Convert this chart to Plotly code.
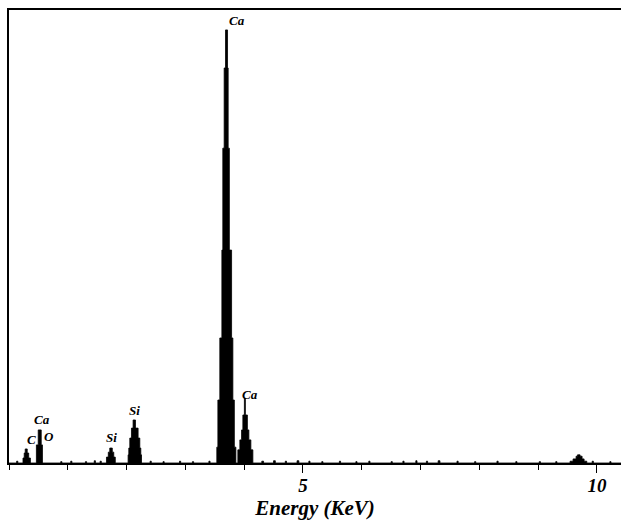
import plotly.graph_objects as go

# ---- data ----
# each peak: step edges (keV) and counts from that edge to the next
c_keV = [0.238, 0.259, 0.276, 0.310, 0.335, 0.364]
c_counts = [11, 22, 31, 22, 11, 0]

cao_keV = [0.466, 0.497, 0.548, 0.569]
cao_counts = [40, 73, 40, 0]

si1_keV = [1.658, 1.689, 1.714, 1.757, 1.782, 1.808]
si1_counts = [13, 24, 33, 24, 13, 0]

si2_keV = [2.026, 2.038, 2.055, 2.083, 2.111, 2.151, 2.196, 2.225, 2.242, 2.254]
si2_counts = [18, 33, 55, 77, 95, 77, 55, 33, 18, 0]

ca_ka_keV = [3.535, 3.553, 3.586, 3.621, 3.637, 3.660, 3.683, 3.717, 3.728, 3.748,
             3.786, 3.808, 3.833, 3.859]
ca_ka_counts = [35, 139, 276, 470, 695, 872, 956, 872, 695, 470, 276, 139, 35, 0]

ca_kb_keV = [3.893, 3.927, 3.956, 3.978, 4.004, 4.021, 4.055, 4.080, 4.114, 4.148]
ca_kb_counts = [29, 51, 73, 106, 143, 106, 73, 51, 29, 0]

hi_keV = [9.544, 9.595, 9.646, 9.671, 9.714, 9.748, 9.782, 9.828]
hi_counts = [4, 9, 15, 18, 15, 9, 4, 0]

# background noise blips (edge, count) pairs
noise_keV = [0.13, 0.15, 0.88, 0.90, 1.05, 1.07, 1.30, 1.32, 1.45, 1.47, 1.55, 1.57,
             2.40, 2.42, 2.62, 2.64, 2.90, 2.92, 3.12, 3.14, 3.40, 3.42,
             4.30, 4.33, 4.50, 4.53, 4.70, 4.72, 4.90, 4.93, 5.10, 5.12, 5.32, 5.34,
             5.62, 5.64, 5.90, 5.92, 6.12, 6.14, 6.50, 6.52, 6.70, 6.72, 6.92, 6.94,
             7.10, 7.12, 7.30, 7.33, 7.62, 7.64, 7.92, 7.94, 8.30, 8.32, 8.62, 8.64,
             9.02, 9.04, 9.30, 9.32, 9.92, 9.94, 10.22, 10.24]
noise_counts = [4, 0, 3, 0, 4, 0, 3, 0, 5, 0, 4, 0,
                4, 0, 3, 0, 4, 0, 3, 0, 4, 0,
                4, 0, 5, 0, 4, 0, 5, 0, 4, 0, 3, 0,
                4, 0, 3, 0, 4, 0, 3, 0, 4, 0, 5, 0,
                4, 0, 5, 0, 4, 0, 3, 0, 4, 0, 3, 0,
                3, 0, 3, 0, 4, 0, 3, 0]

x_range = [0, 10.41]
y_range = [0, 1000]
tick_values = [5, 10]
tick_text = ["5", "10"]

# peak labels: text, energy, count at label
labels = [
    ("Ca", 3.700, 956),
    ("C", 0.300, 31),
    ("Ca", 0.520, 73),
    ("O", 0.580, 40),
    ("Si", 1.735, 33),
    ("Si", 2.130, 95),
    ("Ca", 4.020, 143),
]

# ---- assemble spectrum ----
pts = [(0.0, 0)]
for ks, cs in [(c_keV, c_counts), (cao_keV, cao_counts), (si1_keV, si1_counts),
               (si2_keV, si2_counts), (ca_ka_keV, ca_ka_counts), (ca_kb_keV, ca_kb_counts),
               (hi_keV, hi_counts), (noise_keV, noise_counts)]:
    pts.extend(zip(ks, cs))
pts.append((x_range[1], 0))
pts.sort(key=lambda p: p[0])
xs = [p[0] for p in pts]
ys = [p[1] for p in pts]

fig = go.Figure()
fig.add_trace(go.Scatter(
    x=xs, y=ys, mode="lines", line=dict(shape="hv", color="black", width=0.8),
    fill="tozeroy", fillcolor="black", hoverinfo="skip", showlegend=False))

serif = "Liberation Serif"
# (xanchor, xshift, yshift)
place = {0: ("left", 0, 0), 1: ("left", -2, 0), 2: ("center", 2, 1), 3: ("left", -1, -1),
         4: ("center", 0, 1), 5: ("center", 0, 0), 6: ("center", 5, -6)}
for i, (txt, e, h) in enumerate(labels):
    xa, dx, dy = place[i]
    fig.add_annotation(x=e, y=h, text="<b><i>%s</i></b>" % txt, showarrow=False,
                       xanchor=xa, yanchor="bottom", xshift=dx, yshift=dy,
                       font=dict(family=serif, size=13, color="black"))

fig.update_layout(
    width=621, height=520,
    margin=dict(l=9, r=0, t=10, b=57),
    paper_bgcolor="white", plot_bgcolor="white",
    xaxis=dict(range=x_range, showgrid=False, zeroline=False,
               showline=True, linecolor="black", linewidth=1.5, mirror=True,
               ticks="outside", ticklen=8, tickcolor="black", tickwidth=1,
               tickvals=tick_values, ticktext=tick_text, ticklabelstandoff=-4,
               tickfont=dict(family=serif, size=19, color="black", weight="bold", style="italic"),
               minor=dict(dtick=1, tick0=0, ticks="outside", ticklen=5, tickcolor="black", tickwidth=1),
               title=dict(text="Energy (KeV)", standoff=4,
                          font=dict(family=serif, size=21, color="black", weight="bold", style="italic"))),
    yaxis=dict(range=y_range, showgrid=False, zeroline=False, showticklabels=False,
               showline=True, linecolor="black", linewidth=1.5, ticks=""),
)

fig.write_html("out.html")
